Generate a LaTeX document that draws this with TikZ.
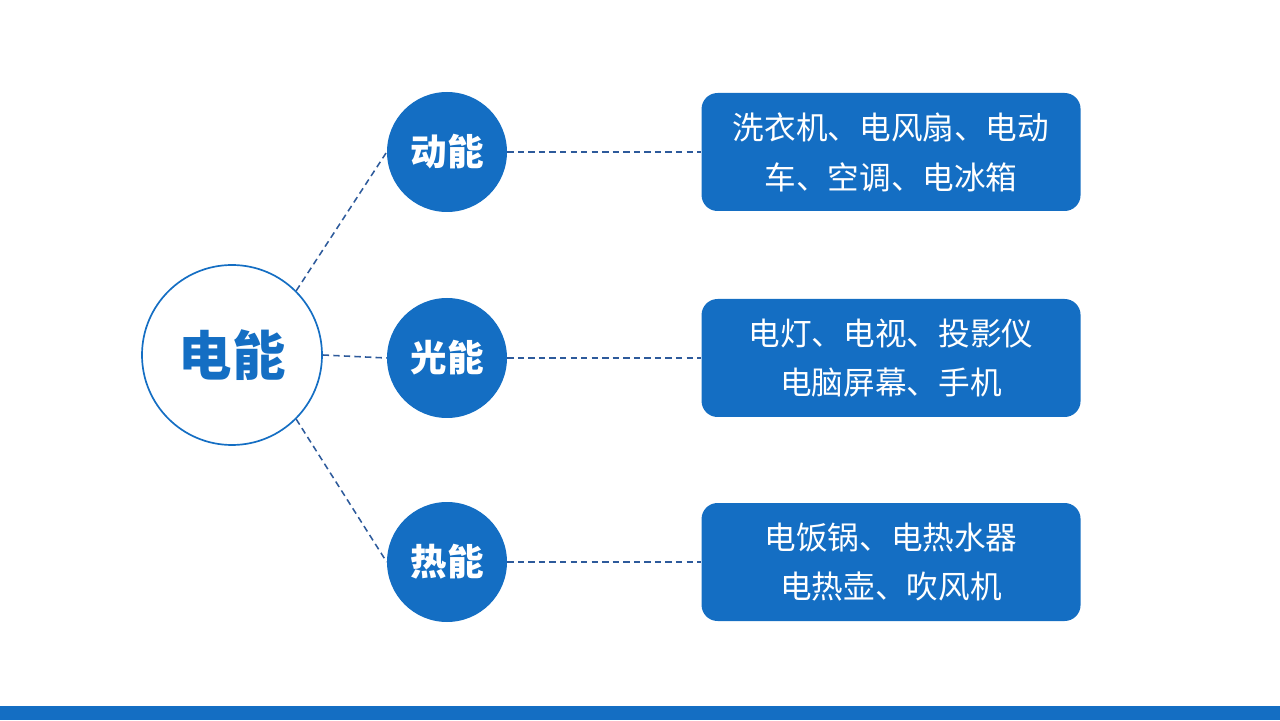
\documentclass[tikz,border=0pt]{standalone}
\usepackage{fontspec}
\newfontfamily\cjk{Noto Sans CJK SC}
\usepackage{tikz}
\usetikzlibrary{positioning}

\definecolor{mainblue}{RGB}{20,110,195}
\definecolor{linkblue}{RGB}{45,90,155}

\begin{document}
\begin{tikzpicture}[
    node distance=4.85cm,
    hub/.style={circle, draw=mainblue, line width=1.2pt, fill=white, minimum size=4.5cm, inner sep=0pt, text=mainblue, font=\cjk\bfseries\fontsize{38}{40}\selectfont},
    kind/.style={circle, fill=mainblue, minimum size=3cm, inner sep=0pt, text=white, font=\cjk\bfseries\fontsize{26}{30}\selectfont},
    usage/.style={rectangle, fill=mainblue, rounded corners=0.4cm, minimum width=9.475cm, minimum height=2.95cm, inner sep=0pt, align=center, text=white, font=\cjk\fontsize{22.5}{35.5}\selectfont},
    link/.style={dash pattern=on 4.5pt off 3pt, draw=linkblue, line width=1.1pt}
]
\useasboundingbox (0,0) rectangle (32,18);
\fill[mainblue] (0,0) rectangle (32,0.35);

\node[hub] (elec) at (5.8,9.125) {电能};
\node[kind] (kinetic) at (11.175,14.2) {动能};
\node[kind] (light) at (11.175,9.05) {光能};
\node[kind] (heat) at (11.175,3.95) {热能};

\node[usage, right=of kinetic] (kinuse) {洗衣机、电风扇、电动\\车、空调、电冰箱};
\node[usage, right=of light] (lituse) {电灯、电视、投影仪\\电脑屏幕、手机};
\node[usage, right=of heat] (heatuse) {电饭锅、电热水器\\电热壶、吹风机};

\draw[link] (elec.45) -- (kinetic.west);
\draw[link] (elec.east) -- (light.west);
\draw[link] (elec.-45) -- (heat.west);
\draw[link] (kinetic) -- (kinuse);
\draw[link] (light) -- (lituse);
\draw[link] (heat) -- (heatuse);
\end{tikzpicture}
\end{document}
